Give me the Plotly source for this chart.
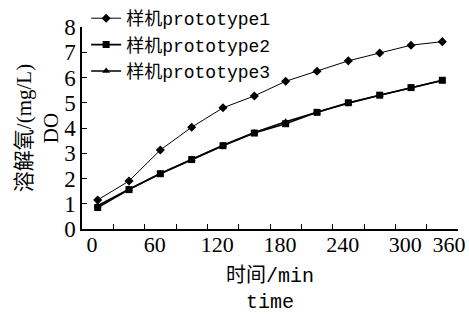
import plotly.graph_objects as go

time_min = [15, 45, 75, 105, 135, 165, 195, 225, 255, 285, 315, 345]
proto1 = [1.15, 1.90, 3.13, 4.03, 4.80, 5.27, 5.85, 6.25, 6.66, 6.97, 7.28, 7.42]
proto2 = [0.85, 1.56, 2.19, 2.75, 3.30, 3.80, 4.17, 4.62, 5.00, 5.30, 5.60, 5.89]
proto3 = [0.92, 1.58, 2.20, 2.77, 3.32, 3.82, 4.25, 4.62, 4.98, 5.30, 5.60, 5.88]
names = ["样机prototype1", "样机prototype2", "样机prototype3"]
x_ticks = [0, 60, 120, 180, 240, 300]
x_last_tick = [360]
y_ticks = [0, 1, 2, 3, 4, 5, 6, 7, 8]

serif = "Liberation Serif, Noto Sans CJK SC"
mono = "Liberation Mono, Noto Sans CJK SC"

fig = go.Figure()
specs = [(proto1, "diamond", 1.0, 7), (proto2, "square", 1.6, 7), (proto3, "triangle-up", 1.6, 7)]
for name, (vals, sym, lw, ms) in zip(names, specs):
    fig.add_trace(go.Scatter(
        x=time_min, y=vals, name=name, mode="lines+markers",
        line=dict(color="black", width=lw),
        marker=dict(symbol=sym, size=ms, color="black"),
    ))
# helper trace so the overlay axis carrying the last tick label is drawn
fig.add_trace(go.Scatter(x=[None], y=[None], xaxis="x2", showlegend=False,
                         hoverinfo="skip", mode="markers"))

tickfont = dict(family=serif, size=22, color="black")
fig.update_layout(
    width=469, height=314,
    margin=dict(l=82, r=11, t=27, b=85, autoexpand=False),
    paper_bgcolor="white", plot_bgcolor="white",
    showlegend=True,
    legend=dict(x=0.011, y=1.0, xanchor="left", yanchor="top", yref="container",
                font=dict(family=mono, size=18, color="black"),
                bgcolor="rgba(0,0,0,0)", tracegroupgap=0, itemwidth=30),
    xaxis=dict(range=[0, 360], tickmode="array", tickvals=x_ticks,
               ticktext=[str(v) for v in x_ticks],
               ticks="inside", ticklen=5, tickcolor="black",
               minor=dict(tickvals=[30, 90, 150, 210, 270, 330, 360], ticks="inside",
                          ticklen=5, tickcolor="black"),
               showline=True, linecolor="black", linewidth=1.5,
               showgrid=False, zeroline=False,
               ticklabelshift=10, ticklabelstandoff=-5,
               tickfont=tickfont,
               title=dict(text="时间/min<br>time", standoff=18,
                          font=dict(family=mono, size=20, color="black"))),
    xaxis2=dict(range=[0, 360], overlaying="x", anchor="y", side="bottom",
                tickmode="array", tickvals=x_last_tick,
                ticktext=[str(v) for v in x_last_tick], ticks="",
                showline=False, showgrid=False, zeroline=False,
                ticklabelshift=-9, ticklabelstandoff=0,
                ticklabeloverflow="allow", tickfont=tickfont),
    yaxis=dict(range=[0, 8], tickmode="array", tickvals=y_ticks,
               ticks="inside", ticklen=5, tickcolor="black",
               showline=True, linecolor="black", linewidth=1.5,
               showgrid=False, zeroline=False,
               tickfont=dict(family=serif, size=23, color="black"),
               title=dict(text="溶解氧/(mg/L)<br>DO", standoff=0,
                          font=dict(family=serif, size=21, color="black"))),
)

fig.write_html("out.html", config={"displayModeBar": False},
               post_script="document.body.style.margin='0';")
